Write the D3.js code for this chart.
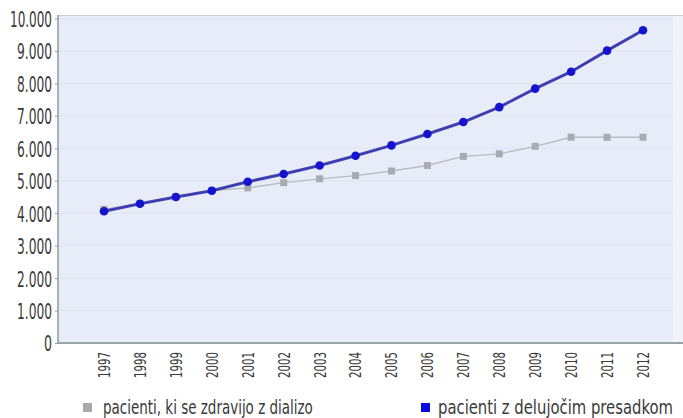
<!DOCTYPE html>
<html>
<head>
<meta charset="utf-8">
<script src="https://cdn.jsdelivr.net/npm/d3@7/dist/d3.min.js"></script>
<style>
  html, body { margin: 0; padding: 0; background: #ffffff; }
  svg { display: block; }
  text { font-family: "DejaVu Sans Condensed", "Liberation Sans Narrow", sans-serif; font-stretch: condensed; fill: #3a3a3a; }
</style>
</head>
<body>
<svg id="chart" width="683" height="418"></svg>
<script>
// Patients on dialysis vs. patients with a functioning transplant, 1997–2012
const years = [1997, 1998, 1999, 2000, 2001, 2002, 2003, 2004, 2005, 2006, 2007, 2008, 2009, 2010, 2011, 2012];
const dialysis = [4120, 4300, 4500, 4700, 4780, 4940, 5060, 5160, 5300, 5470, 5750, 5830, 6060, 6340, 6340, 6340];
const transplant = [4060, 4290, 4500, 4690, 4970, 5210, 5470, 5770, 6090, 6440, 6810, 7270, 7840, 8360, 9010, 9640];
const yTicks = [0, 1000, 2000, 3000, 4000, 5000, 6000, 7000, 8000, 9000, 10000];
const seriesNames = ["pacienti, ki se zdravijo z dializo", "pacienti z delujočim presadkom"];

const svg = d3.select("#chart");
const plot = { left: 58, right: 673, top: 15, bottom: 343 };

const x = d3.scalePoint().domain(years).range([104, 643]);
const y = d3.scaleLinear().domain([0, 10000]).range([plot.bottom, 18.5]);

// horizontal squeeze factor for the narrow lettering
function squeeze(sel, factor) {
  sel.each(function () {
    const el = d3.select(this);
    const base = el.attr("data-base") || "";
    el.attr("transform", `${base} scale(${factor},1)`);
  });
}

// plot background
svg.append("rect")
  .attr("x", plot.left).attr("y", plot.top)
  .attr("width", 683 - plot.left).attr("height", plot.bottom - plot.top)
  .attr("fill", "#f1f3fb");
svg.append("rect")
  .attr("x", plot.left).attr("y", plot.top)
  .attr("width", plot.right - plot.left).attr("height", plot.bottom - plot.top)
  .attr("fill", "#e8ecf8");

// faint horizontal gridlines
svg.append("g").selectAll("line").data(yTicks.slice(1)).join("line")
  .attr("x1", plot.left).attr("x2", plot.right)
  .attr("y1", d => y(d)).attr("y2", d => y(d))
  .attr("stroke", "#e0e4f2").attr("stroke-width", 1);

// top frame line
svg.append("line")
  .attr("x1", plot.left).attr("x2", 683)
  .attr("y1", plot.top + 0.5).attr("y2", plot.top + 0.5)
  .attr("stroke", "#c9ccd2").attr("stroke-width", 1);

// y axis
const yAxis = d3.axisLeft(y).tickValues(yTicks).tickSize(3).tickPadding(5)
  .tickFormat(d => d3.format(",")(d).replace(/,/g, "."));
const gy = svg.append("g").attr("transform", `translate(${plot.left},0)`).call(yAxis);
gy.select(".domain").attr("stroke", "#8c9c9c").attr("stroke-width", 1.5)
  .attr("d", `M0,${plot.top}V${plot.bottom}`);
gy.selectAll(".tick line").attr("stroke", "#8c9c9c");
gy.selectAll(".tick text")
  .attr("font-size", 22).attr("fill", "#444").attr("dy", "0.36em")
  .attr("x", 0).attr("data-base", "translate(-6,0)")
  .attr("text-anchor", "end");
gy.selectAll(".tick text").each(function () {
  const w = this.getComputedTextLength();
  const target = this.textContent.length === 6 ? 42 : (this.textContent.length === 1 ? 8 : 35);
  squeeze(d3.select(this), target / w);
});

// x axis
const xAxis = d3.axisBottom(x).tickSize(0).tickPadding(8);
const gx = svg.append("g").attr("transform", `translate(0,${plot.bottom})`).call(xAxis);
gx.select(".domain").attr("stroke", "#9aa4a6").attr("stroke-width", 2)
  .attr("d", `M${plot.left},0H683`);
gx.selectAll(".tick text")
  .attr("font-size", 15).attr("fill", "#444")
  .attr("text-anchor", "end")
  .attr("x", 0).attr("y", 0).attr("dy", "0.36em")
  .attr("data-base", "rotate(-90) translate(-9,0)");
gx.selectAll(".tick text").each(function () {
  squeeze(d3.select(this), 26 / this.getComputedTextLength());
});

// dialysis series (grey, squares)
const line = d3.line().x((d, i) => x(years[i])).y(d => y(d));
svg.append("path").datum(dialysis)
  .attr("d", line).attr("fill", "none")
  .attr("stroke", "#b8bcc0").attr("stroke-width", 1.3);
svg.append("g").selectAll("rect").data(dialysis).join("rect")
  .attr("x", (d, i) => x(years[i]) - 3.5).attr("y", d => y(d) - 3.5)
  .attr("width", 7).attr("height", 7)
  .attr("fill", "#a8acb0");

// transplant series (blue, dots)
svg.append("path").datum(transplant)
  .attr("d", line).attr("fill", "none")
  .attr("stroke", "#4a4aa0").attr("stroke-width", 3);
svg.append("path").datum(transplant)
  .attr("d", line).attr("fill", "none")
  .attr("stroke", "#3535c8").attr("stroke-width", 1.2);
svg.append("g").selectAll("circle").data(transplant).join("circle")
  .attr("cx", (d, i) => x(years[i])).attr("cy", d => y(d))
  .attr("r", 4.3).attr("fill", "#1414d0");

// legend
const legend = [
  { name: seriesNames[0], color: "#a6aaae", sx: 83, tx: 103, w: 210 },
  { name: seriesNames[1], color: "#0a0ae0", sx: 421, tx: 438, w: 235 }
];
const lg = svg.append("g");
lg.selectAll("rect").data(legend).join("rect")
  .attr("x", d => d.sx).attr("y", 403).attr("width", 9).attr("height", 9)
  .attr("fill", d => d.color);
lg.selectAll("text").data(legend).join("text")
  .attr("x", 0).attr("y", 0).attr("dy", "0.36em")
  .attr("font-size", 20).attr("fill", "#444")
  .attr("data-base", d => `translate(${d.tx},407)`)
  .text(d => d.name)
  .each(function (d) {
    squeeze(d3.select(this), d.w / this.getComputedTextLength());
  });
</script>
</body>
</html>
